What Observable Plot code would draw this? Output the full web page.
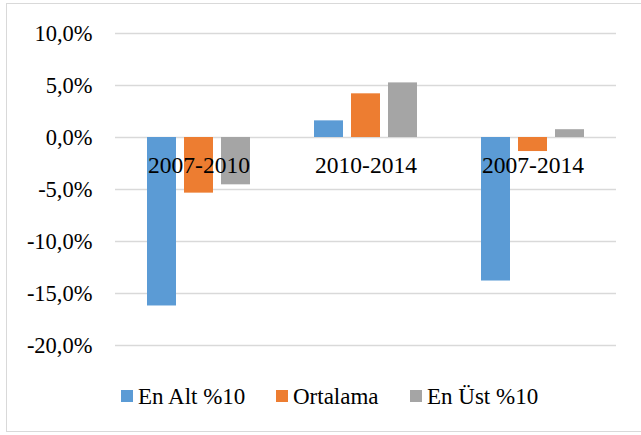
<!DOCTYPE html>
<html>
<head>
<meta charset="utf-8">
<script src="https://cdn.jsdelivr.net/npm/d3@7"></script>
<script src="https://cdn.jsdelivr.net/npm/@observablehq/plot@0.6"></script>
<style>
  html, body { margin: 0; padding: 0; background: #fff; }
  #wrap { position: relative; width: 641px; height: 435px; overflow: hidden; }
  #wrap, #wrap * { font-family: "Liberation Serif", "Times New Roman", serif !important; }
  #frame { position: absolute; left: 6px; top: 3px; width: 660px; height: 429px; border: 1.5px solid #d9d9d9; box-sizing: border-box; }
  #chart { position: absolute; left: 0; top: 0; }
  #legend { position: absolute; top: 385px; left: 0; width: 641px; height: 30px; font-size: 23px; line-height: 23px; color: #000; }
  .item { position: absolute; top: 0; display: flex; align-items: flex-start; white-space: nowrap; }
  .sw { width: 12px; height: 12px; display: inline-block; margin-top: 5px; margin-right: 5px; }
</style>
</head>
<body>
<div id="wrap">
  <div id="frame"></div>
  <div id="chart"></div>
  <div id="legend"></div>
</div>
<script>
const groups = ["2007-2010", "2010-2014", "2007-2014"];
const series = ["En Alt %10", "Ortalama", "En Üst %10"];
const colors = ["#5B9BD5", "#ED7D31", "#A5A5A5"];
const enAlt = [-16.2, 1.6, -13.8];
const ortalama = [-5.35, 4.2, -1.35];
const enUst = [-4.55, 5.25, 0.75];
const yTicks = [10, 5, 0, -5, -10, -15, -20];

const values = [enAlt, ortalama, enUst];
const data = [];
groups.forEach((g, gi) => series.forEach((s, si) => data.push({group: g, series: s, value: values[si][gi]})));

const fmt = d => d.toFixed(1).replace(".", ",") + "%";
const FONT = "'Liberation Serif', 'Times New Roman', serif";

const chart = Plot.plot({
  width: 641,
  height: 360,
  marginLeft: 114,
  marginRight: 24,
  marginTop: 33,
  marginBottom: 15,
  style: {fontFamily: FONT, fontSize: "22px", color: "#000", background: "transparent"},
  fx: {domain: groups, padding: 0, axis: null},
  x: {domain: series, paddingInner: 0.22, paddingOuter: 0.846, axis: null},
  y: {domain: [-20, 10], axis: null},
  color: {domain: series, range: colors},
  marks: [
    Plot.ruleY(yTicks, {stroke: "#d9d9d9", strokeWidth: 1.5}),
    Plot.barY(data, {fx: "group", x: "series", y: "value", fill: "series"}),
    Plot.text(groups, {fx: d => d, text: d => d, y: 0, dy: 28, fill: "#000", fontSize: 23.5, fontFamily: FONT}),
    Plot.axisY(yTicks, {anchor: "left", tickSize: 0, tickPadding: 23, tickFormat: fmt, label: null, fill: "#000", fontSize: 22.5, fontFamily: FONT})
  ]
});
chart.querySelectorAll("text").forEach(t => { t.style.fontFamily = FONT; });
document.getElementById("chart").appendChild(chart);

const legend = document.getElementById("legend");
const lefts = [121, 276, 410];
series.forEach((s, i) => {
  const it = document.createElement("div");
  it.className = "item";
  it.style.left = lefts[i] + "px";
  const sw = document.createElement("span");
  sw.className = "sw";
  sw.style.background = colors[i];
  const t = document.createElement("span");
  t.textContent = s;
  t.style.fontFamily = FONT;
  it.appendChild(sw);
  it.appendChild(t);
  legend.appendChild(it);
});
</script>
</body>
</html>
